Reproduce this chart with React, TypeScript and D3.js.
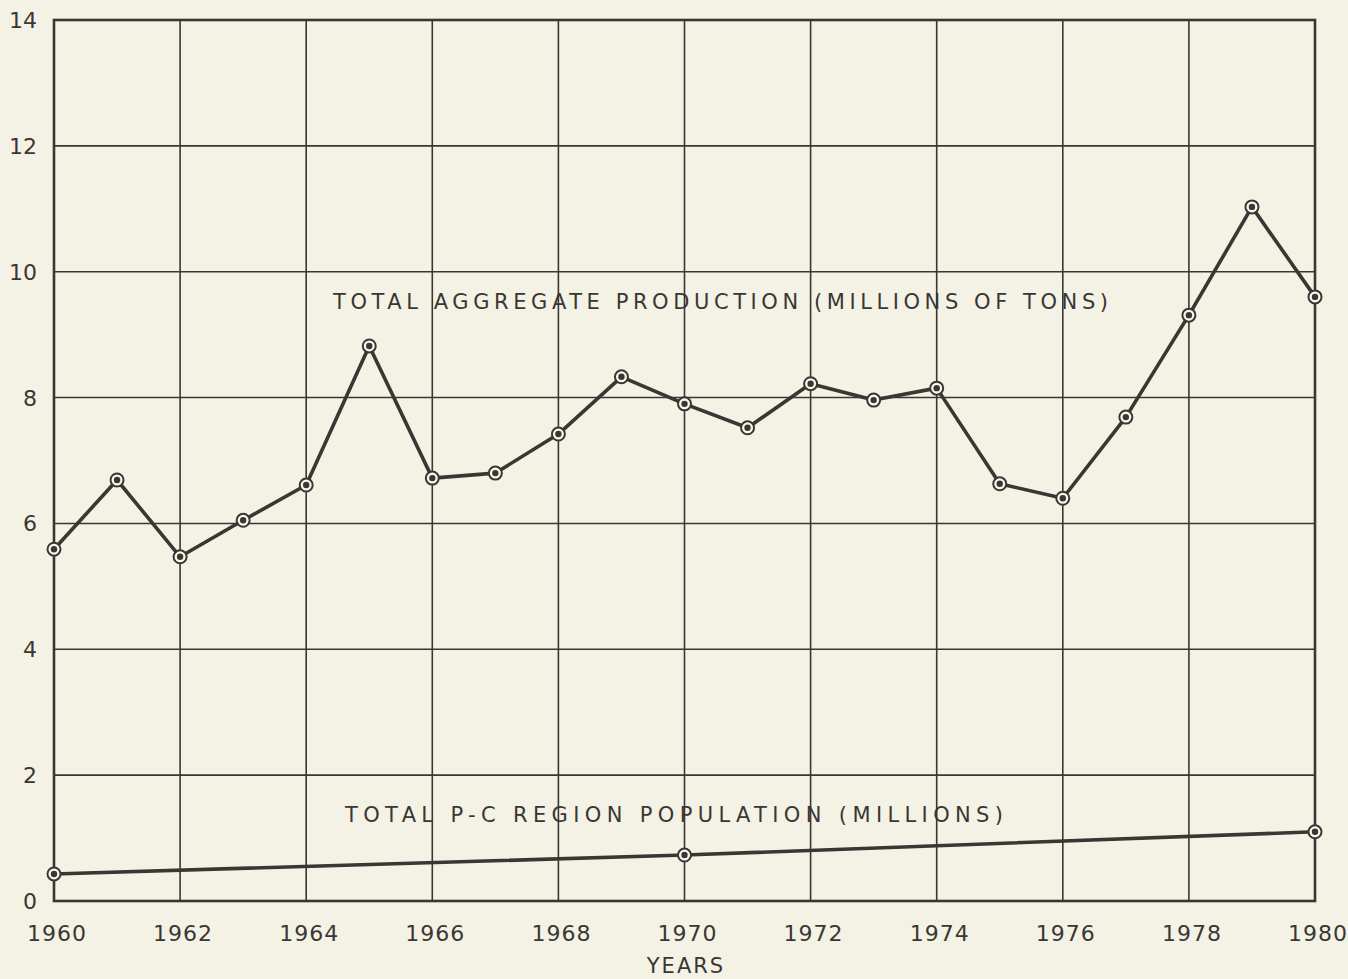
import * as d3 from "d3";
import React, { useEffect, useRef } from "react";

const years = [1960, 1961, 1962, 1963, 1964, 1965, 1966, 1967, 1968, 1969, 1970,
  1971, 1972, 1973, 1974, 1975, 1976, 1977, 1978, 1979, 1980];
const production = [5.59, 6.69, 5.47, 6.05, 6.61, 8.82, 6.72, 6.8, 7.42, 8.33, 7.9,
  7.52, 8.22, 7.96, 8.15, 6.63, 6.4, 7.69, 9.31, 11.03, 9.6];
const popYears = [1960, 1970, 1980];
const population = [0.43, 0.73, 1.1];
const xTicks = [1960, 1962, 1964, 1966, 1968, 1970, 1972, 1974, 1976, 1978, 1980];
const yTicks = [0, 2, 4, 6, 8, 10, 12, 14];

const W = 1348;
const H = 979;
const ink = "#3a3634";
const paper = "#f4f2e4";
const font = "'DejaVu Sans', 'Open Sans', sans-serif";

export default function App() {
  const svgRef = useRef<SVGSVGElement>(null);

  useEffect(() => {
    const svg = d3.select(svgRef.current);
    svg.selectAll("*").remove();

    const margin = { top: 20, right: 33, bottom: 78, left: 54 };
    const x = d3.scaleLinear().domain([1960, 1980]).range([margin.left, W - margin.right]);
    const y = d3.scaleLinear().domain([0, 14]).range([H - margin.bottom, margin.top]);

    svg.append("rect").attr("width", W).attr("height", H).attr("fill", paper);

    // grid
    const grid = svg.append("g").attr("stroke", ink).attr("stroke-width", 1.6);
    grid.selectAll("line.v")
      .data(xTicks)
      .enter()
      .append("line")
      .attr("x1", d => x(d)).attr("x2", d => x(d))
      .attr("y1", y(14)).attr("y2", y(0));
    grid.selectAll("line.h")
      .data(yTicks)
      .enter()
      .append("line")
      .attr("y1", d => y(d)).attr("y2", d => y(d))
      .attr("x1", x(1960)).attr("x2", x(1980));
    svg.append("rect")
      .attr("x", x(1960)).attr("y", y(14))
      .attr("width", x(1980) - x(1960)).attr("height", y(0) - y(14))
      .attr("fill", "none").attr("stroke", ink).attr("stroke-width", 2.6);

    // tick labels
    svg.append("g").selectAll("text")
      .data(yTicks)
      .enter()
      .append("text")
      .attr("x", 37)
      .attr("y", d => y(d) + 8)
      .attr("text-anchor", "end")
      .attr("font-family", font)
      .attr("font-size", 22)
      .attr("fill", ink)
      .text(d => d);
    svg.append("g").selectAll("text")
      .data(xTicks)
      .enter()
      .append("text")
      .attr("x", d => x(d) + 3)
      .attr("y", 941)
      .attr("text-anchor", "middle")
      .attr("font-family", font)
      .attr("font-size", 22)
      .attr("letter-spacing", 1)
      .attr("fill", ink)
      .text(d => d);
    svg.append("text")
      .attr("x", 686).attr("y", 973)
      .attr("text-anchor", "middle")
      .attr("font-family", font)
      .attr("font-size", 21)
      .attr("letter-spacing", 2)
      .attr("fill", ink)
      .text("YEARS");

    // series
    const line = d3.line<[number, number]>().x(d => x(d[0])).y(d => y(d[1]));
    const prod: [number, number][] = years.map((yr, i) => [yr, production[i]]);
    const pop: [number, number][] = popYears.map((yr, i) => [yr, population[i]]);

    [prod, pop].forEach(s => {
      svg.append("path")
        .datum(s)
        .attr("d", line)
        .attr("fill", "none")
        .attr("stroke", ink)
        .attr("stroke-width", 3.6)
        .attr("stroke-linejoin", "round");
      const m = svg.append("g").selectAll("g")
        .data(s)
        .enter()
        .append("g")
        .attr("transform", d => `translate(${x(d[0])},${y(d[1])})`);
      m.append("circle").attr("r", 6.5).attr("fill", "#faf8ee").attr("stroke", ink).attr("stroke-width", 2);
      m.append("circle").attr("r", 3.2).attr("fill", ink);
    });

    // series labels
    svg.append("text")
      .attr("x", 333).attr("y", 309)
      .attr("textLength", 775).attr("lengthAdjust", "spacing")
      .attr("font-family", font).attr("font-size", 21).attr("fill", ink)
      .text("TOTAL  AGGREGATE  PRODUCTION  (MILLIONS OF  TONS)");
    svg.append("text")
      .attr("x", 345).attr("y", 822)
      .attr("textLength", 658).attr("lengthAdjust", "spacing")
      .attr("font-family", font).attr("font-size", 21).attr("fill", ink)
      .text("TOTAL  P-C  REGION  POPULATION  (MILLIONS)");
  }, []);

  return (
    <svg ref={svgRef} width={W} height={H}
      style={{ display: "block", position: "fixed", top: 0, left: 0 }} />
  );
}
